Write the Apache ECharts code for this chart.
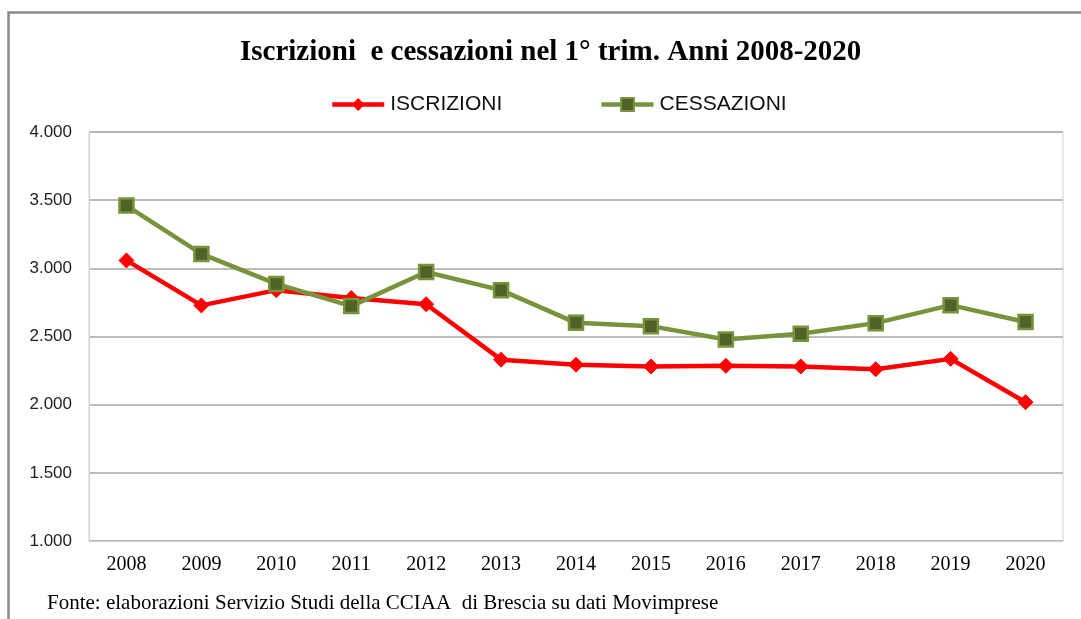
<!DOCTYPE html>
<html><head><meta charset="utf-8">
<script src="https://cdn.jsdelivr.net/npm/echarts@6/dist/echarts.min.js"></script>
<style>html,body{margin:0;padding:0;background:#fff}#c{width:1081px;height:619px}</style>
</head><body><div id="c"></div>
<script>
const years = ['2008','2009','2010','2011','2012','2013','2014','2015','2016','2017','2018','2019','2020'];
const iscrizioni = [3058, 2728, 2840, 2782, 2737, 2330, 2293, 2280, 2285, 2280, 2260, 2336, 2018];
const cessazioni = [3460, 3106, 2886, 2723, 2973, 2840, 2600, 2576, 2478, 2520, 2598, 2730, 2606];
const yTicks = {min: 1000, max: 4000, interval: 500};
const titleText = 'Iscrizioni  e cessazioni nel 1° trim. Anni 2008-2020';
const footerText = 'Fonte: elaborazioni Servizio Studi della CCIAA  di Brescia su dati Movimprese';

const chart = echarts.init(document.getElementById('c'), null, {renderer: 'canvas'});
chart.setOption({
  animation: false,
  backgroundColor: '#fff',
  title: {
    text: titleText, left: 240, top: 38, padding: 0,
    textStyle: {fontFamily: 'Liberation Serif', fontWeight: 'bold', fontSize: 29, color: '#000'}
  },
  legend: {
    top: 94, left: 330, padding: 0, itemWidth: 52, itemHeight: 16, itemGap: 97,
    lineStyle: {width: 4.5},
    textStyle: {fontFamily: 'Liberation Sans', fontSize: 21, color: '#111', padding: [0,0,0,1]},
    data: ['ISCRIZIONI', 'CESSAZIONI']
  },
  graphic: [
    {type: 'polyline', shape: {points: [[8.5, 700], [8.5, 12.5], [1100, 12.5]]}, style: {stroke: '#8a8a8a', lineWidth: 2.5, fill: null}},
    {type: 'text', left: 47, top: 593, style: {text: footerText, font: '21px "Liberation Serif"', fill: '#000'}}
  ],
  grid: {left: 89, right: 18, top: 132, bottom: 78, show: true, borderColor: '#d0d0d0', borderWidth: 1},
  xAxis: {
    type: 'category', data: years, boundaryGap: true,
    axisLine: {show: true, lineStyle: {color: '#d0d0d0'}},
    axisTick: {show: false},
    axisLabel: {fontFamily: 'Liberation Serif', fontSize: 20, color: '#000', margin: 14}
  },
  yAxis: {
    type: 'value', min: yTicks.min, max: yTicks.max, interval: yTicks.interval,
    axisLine: {show: true, lineStyle: {color: '#d0d0d0'}},
    axisTick: {show: false},
    splitLine: {lineStyle: {color: '#a6a6a6', width: 1.5}},
    axisLabel: {fontFamily: 'Liberation Sans', fontSize: 17, color: '#222', margin: 17,
      formatter: v => v.toString().replace(/\B(?=(\d{3})+(?!\d))/g, '.')}
  },
  series: [
    {name: 'ISCRIZIONI', type: 'line', data: iscrizioni, symbol: 'diamond', symbolSize: 15,
      lineStyle: {color: '#ff0000', width: 4.5}, itemStyle: {color: '#ff0000', borderColor: '#ff0000'}, z: 2},
    {name: 'CESSAZIONI', type: 'line', data: cessazioni, symbol: 'rect', symbolSize: 14,
      lineStyle: {color: '#77933c', width: 4.5}, itemStyle: {color: '#4f6228', borderColor: '#77933c', borderWidth: 2.5}, z: 3}
  ]
});
</script>
</body></html>
